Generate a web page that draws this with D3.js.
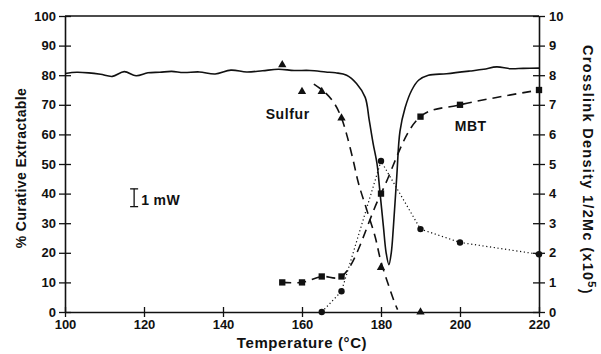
<!DOCTYPE html>
<html>
<head>
<meta charset="utf-8">
<script src="https://cdn.jsdelivr.net/npm/d3@7"></script>
<style>
  body { margin: 0; background: #fff; }
  svg text { font-family: "Liberation Sans", Arial, sans-serif; font-weight: bold; fill: #111; }
</style>
</head>
<body>
<svg id="chart" width="601" height="354"></svg>
<script>
// axis ticks
const tempTicks = [100, 120, 140, 160, 180, 200, 220];
const extractTicks = [0, 10, 20, 30, 40, 50, 60, 70, 80, 90, 100];
const densityTicks = [0, 1, 2, 3, 4, 5, 6, 7, 8, 9, 10];

// DSC trace (solid) in % units of the left axis
const dscTemp = [100, 103, 106, 109, 112, 115, 118, 121, 124, 127, 130, 134, 138, 142, 146, 150, 154, 158, 162, 166, 168.5,
  171.3, 173.8, 176, 177, 178, 179, 179.7, 180.6, 181.3, 182, 182.6, 183.1, 184, 184.8, 186.1, 187.8, 189.5, 192, 196.6,
  202.5, 206, 209.3, 212.7, 216, 220];
const dscValue = [80.6, 81, 80.8, 80.3, 79.6, 81.2, 79.8, 80.8, 81, 81.3, 80.9, 81.1, 80.4, 81.7, 81.1, 81.5, 82, 81.6, 81.6, 81.1, 80.8,
  80, 77.2, 72.5, 65, 57, 50, 41, 29, 20, 16, 20, 28, 46, 61, 69, 75, 78.3, 80, 80.5,
  81.4, 82, 82.8, 82.2, 82.3, 82.4];

// MBT (squares, dashed)
const mbtTemp = [155, 160, 165, 170, 180, 190, 200, 220];
const mbtValue = [10, 10, 12, 12, 40, 66, 70, 75];

// Sulfur (triangles) and its dashed trace
const sulfurTemp = [155, 160, 165, 170, 180, 190];
const sulfurValue = [83.5, 74.5, 74.5, 65.5, 15, 0];
const sulfurTraceTemp = [163, 166, 168.4, 170, 171.3, 173, 174.3, 176.4, 178.5, 180, 182.3, 183.5, 184.2];
const sulfurTraceValue = [77, 74, 70, 65.5, 60, 51, 43.5, 34.5, 25.5, 17, 7.5, 3, 0.8];

// crosslink density (circles, dotted), right axis units
const densityTemp = [165, 170, 180, 190, 200, 220];
const densityValue = [0, 0.7, 5.1, 2.8, 2.35, 1.95];

const svg = d3.select('#chart');

const x = d3.scaleLinear().domain([100, 220]).range([65, 539]);
const yL = d3.scaleLinear().domain([0, 100]).range([312, 16]);
const yR = d3.scaleLinear().domain([0, 10]).range([312, 16]);

// frame top
svg.append('line')
  .attr('x1', x(100)).attr('x2', x(220))
  .attr('y1', yL(100)).attr('y2', yL(100))
  .attr('stroke', '#111').attr('stroke-width', 1.6);

// axes
const gx = svg.append('g')
  .attr('transform', `translate(0,${yL(0)})`)
  .call(d3.axisBottom(x).tickValues(tempTicks).tickFormat(d3.format('d')).tickSizeOuter(0).tickSizeInner(5).tickPadding(3));
gx.selectAll('.tick line').attr('y1', -5).attr('y2', 5);

const gl = svg.append('g')
  .attr('transform', `translate(${x(100)},0)`)
  .call(d3.axisLeft(yL).tickValues(extractTicks).tickSizeOuter(0).tickSizeInner(6).tickPadding(3));
gl.selectAll('.tick line').attr('x1', -6).attr('x2', 6);

const gr = svg.append('g')
  .attr('transform', `translate(${x(220)},0)`)
  .call(d3.axisRight(yR).tickValues(densityTicks).tickSizeOuter(0).tickSizeInner(6).tickPadding(4));
gr.selectAll('.tick line').attr('x1', -6).attr('x2', 6);

[gx, gl, gr].forEach(g => {
  g.selectAll('.domain').attr('stroke', '#111').attr('stroke-width', 1.6);
  g.selectAll('.tick line').attr('stroke', '#111').attr('stroke-width', 1.3);
  g.selectAll('.tick text').style('font-size', '13px').attr('fill', '#111');
});

// axis titles
svg.append('text')
  .attr('transform', `translate(${(x(100) + x(220)) / 2},348)`)
  .attr('text-anchor', 'middle')
  .style('font-size', '15px')
  .style('letter-spacing', '0.6px')
  .text('Temperature (°C)');

svg.append('text')
  .attr('transform', `translate(21,${(yL(0) + yL(100)) / 2 + 4}) rotate(-90)`)
  .attr('text-anchor', 'middle')
  .attr('dy', '0.35em')
  .style('font-size', '14px')
  .style('letter-spacing', '0.4px')
  .text('% Curative Extractable');

const rt = svg.append('text')
  .attr('transform', `translate(588,${(yL(0) + yL(100)) / 2 + 6}) rotate(90)`)
  .attr('text-anchor', 'middle')
  .attr('dy', '0.35em')
  .style('font-size', '14.5px')
  .style('letter-spacing', '1.3px');
rt.append('tspan').text('Crosslink Density 1/2Mc (x10');
rt.append('tspan').attr('dy', '-0.45em').style('font-size', '11px').text('5');
rt.append('tspan').attr('dy', '0.45em').text(')');

// DSC trace
const dscLine = d3.line()
  .x(d => x(d[0])).y(d => yL(d[1]))
  .curve(d3.curveCatmullRom.alpha(0.5));
svg.append('path')
  .datum(dscTemp.map((t, i) => [t, dscValue[i]]))
  .attr('d', dscLine)
  .attr('fill', 'none').attr('stroke', '#111').attr('stroke-width', 1.6);

// MBT dashed
svg.append('path')
  .datum(mbtTemp.map((t, i) => [t, mbtValue[i]]))
  .attr('d', dscLine)
  .attr('fill', 'none').attr('stroke', '#111').attr('stroke-width', 1.6)
  .attr('stroke-dasharray', '9,6');

// Sulfur dashed trace
svg.append('path')
  .datum(sulfurTraceTemp.map((t, i) => [t, sulfurTraceValue[i]]))
  .attr('d', dscLine)
  .attr('fill', 'none').attr('stroke', '#111').attr('stroke-width', 1.6)
  .attr('stroke-dasharray', '9,6');

// density dotted
svg.append('path')
  .datum(densityTemp.map((t, i) => [t, densityValue[i]]))
  .attr('d', d3.line().x(d => x(d[0])).y(d => yR(d[1])))
  .attr('fill', 'none').attr('stroke', '#111').attr('stroke-width', 1.2)
  .attr('stroke-dasharray', '1.2,2.6');

// markers
svg.append('g').selectAll('path')
  .data(mbtTemp.map((t, i) => [t, mbtValue[i]]))
  .join('path')
  .attr('transform', d => `translate(${x(d[0])},${yL(d[1])})`)
  .attr('d', d3.symbol(d3.symbolSquare, 40))
  .attr('fill', '#111');

svg.append('g').selectAll('path')
  .data(sulfurTemp.map((t, i) => [t, sulfurValue[i]]))
  .join('path')
  .attr('transform', d => `translate(${x(d[0])},${yL(d[1])})`)
  .attr('d', d3.symbol(d3.symbolTriangle, 30))
  .attr('fill', '#111');

svg.append('g').selectAll('circle')
  .data(densityTemp.map((t, i) => [t, densityValue[i]]))
  .join('circle')
  .attr('cx', d => x(d[0])).attr('cy', d => yR(d[1]))
  .attr('r', 3.2)
  .attr('fill', '#111');

// labels
svg.append('text').attr('x', x(150.8)).attr('y', yL(65.2)).style('font-size', '14px').style('letter-spacing', '0.6px').text('Sulfur');
svg.append('text').attr('x', x(198.7)).attr('y', yL(61.2)).style('font-size', '14px').style('letter-spacing', '0.4px').text('MBT');

// 1 mW scale bar
const barX = x(117.5), barTop = yL(41.6), barBot = yL(35.6);
const bar = svg.append('g').attr('stroke', '#111').attr('stroke-width', 1.3);
bar.append('line').attr('x1', barX).attr('x2', barX).attr('y1', barTop).attr('y2', barBot);
bar.append('line').attr('x1', barX - 4).attr('x2', barX + 4).attr('y1', barTop).attr('y2', barTop);
bar.append('line').attr('x1', barX - 4).attr('x2', barX + 4).attr('y1', barBot).attr('y2', barBot);
svg.append('text').attr('x', barX + 7).attr('y', barBot - 2).style('font-size', '14px').style('letter-spacing', '0.4px').text('1 mW');
</script>
</body>
</html>
